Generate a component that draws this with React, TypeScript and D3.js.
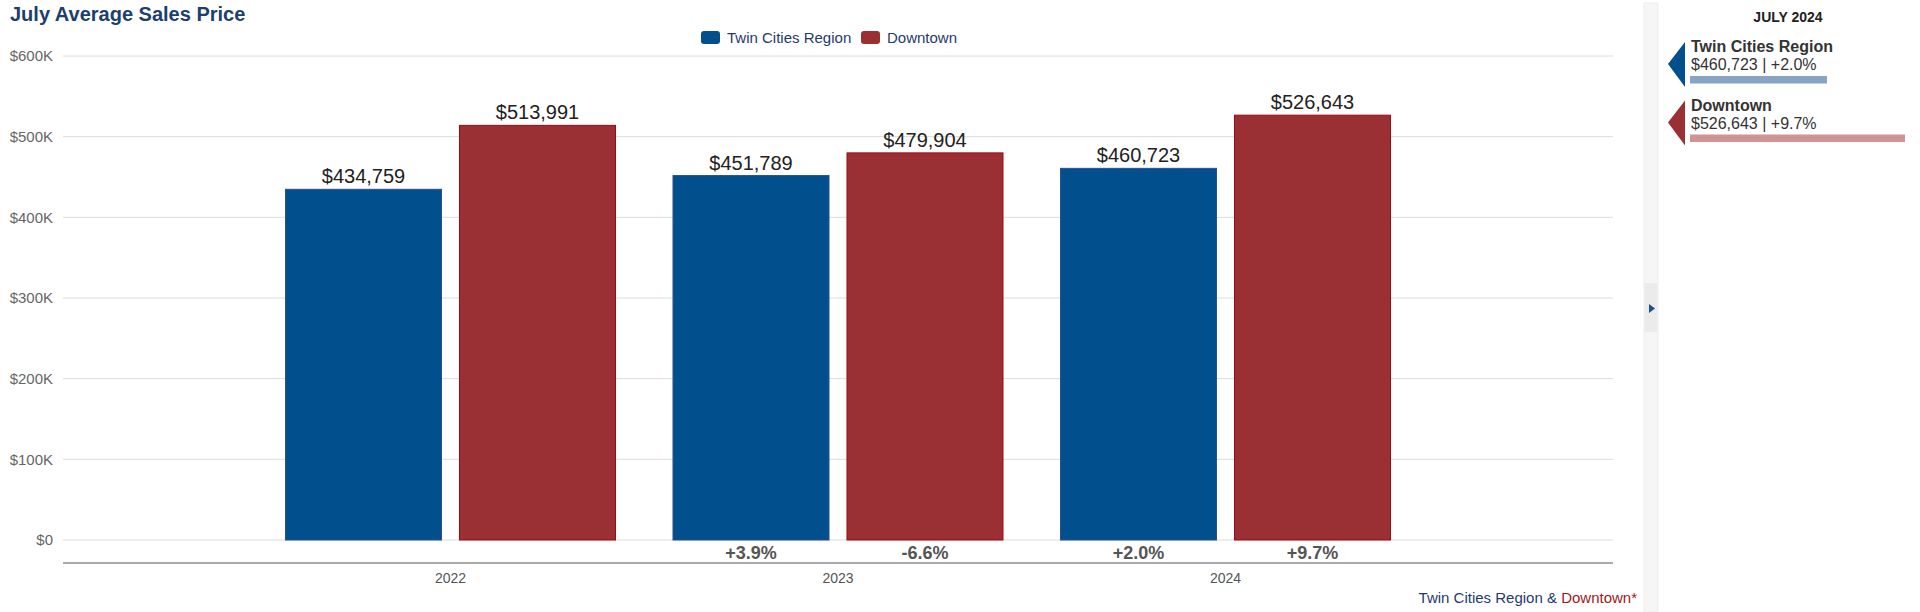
import React from 'react';
import * as d3 from 'd3';

const years = [2022, 2023, 2024];
const seriesNames = ['Twin Cities Region', 'Downtown'];
const twinCities = [434759, 451789, 460723];
const downtown = [513991, 479904, 526643];
const twinChange = ['', '+3.9%', '+2.0%'];
const downtownChange = ['', '-6.6%', '+9.7%'];
const yTicks = [0, 100000, 200000, 300000, 400000, 500000, 600000];
const panelTitle = 'JULY 2024';
const panelValues = [460723, 526643];
const panelChanges = ['+2.0%', '+9.7%'];

const W = 1920;
const H = 612;
const FONT = '"Liberation Sans", Arial, Helvetica, sans-serif';

const colors = ['#024f8e', '#9a3033'];
const strokes = ['#2c4f8f', '#a3080c'];
const lightColors = ['#88a4c4', '#d09494'];

const App: React.FC = () => {
  const x = d3.scaleLinear().domain([2021, 2025]).range([63, 1613]);
  const y = d3.scaleLinear().domain([0, 600000]).range([540, 56]);
  const halfGroup = 165;
  const inner = d3.scaleBand<string>()
    .domain(seriesNames)
    .range([-halfGroup, halfGroup])
    .paddingInner(0.1034);
  const series = [twinCities, downtown];
  const changes = [twinChange, downtownChange];
  const panelBar = d3.scaleLinear().domain([345000, 526643]).range([0, 215]);
  const fmt = d3.format('$,');

  return (
    <svg
      width={W}
      height={H}
      style={{ position: 'absolute', left: 0, top: 0, background: '#fff' }}
      fontFamily={FONT}
    >
      {/* title */}
      <text x={10} y={21} fontSize={20} fontWeight="bold" fill="#1c3f6e">
        July Average Sales Price
      </text>

      {/* legend */}
      {seriesNames.map((name, i) => {
        const lx = i === 0 ? 701 : 861;
        return (
          <g key={name}>
            <rect x={lx} y={31} width={19} height={13} rx={3} fill={colors[i]} />
            <text x={lx + 26} y={43} fontSize={15} fill="#1f3b70">
              {name}
            </text>
          </g>
        );
      })}

      {/* grid + y labels */}
      {yTicks.map((t) => (
        <g key={t}>
          <line x1={63} x2={1613} y1={y(t)} y2={y(t)} stroke="#dcdcdc" strokeWidth={1} />
          <text x={53} y={y(t)} dy="0.35em" textAnchor="end" fontSize={15} fill="#666">
            {t === 0 ? '$0' : `$${t / 1000}K`}
          </text>
        </g>
      ))}

      {/* bars */}
      {years.map((yr, yi) => (
        <g key={yr} transform={`translate(${x(yr)},0)`}>
          {seriesNames.map((name, si) => {
            const v = series[si][yi];
            const bx = inner(name) as number;
            const bw = inner.bandwidth();
            return (
              <g key={name}>
                <rect
                  x={bx}
                  y={y(v)}
                  width={bw}
                  height={y(0) - y(v)}
                  fill={colors[si]}
                  stroke={strokes[si]}
                  strokeWidth={1}
                />
                <text
                  x={bx + bw / 2}
                  y={y(v) - 6}
                  textAnchor="middle"
                  fontSize={20}
                  fill="#222"
                >
                  {fmt(v)}
                </text>
                {changes[si][yi] && (
                  <text
                    x={bx + bw / 2}
                    y={559}
                    textAnchor="middle"
                    fontSize={18}
                    fontWeight="bold"
                    fill="#555"
                  >
                    {changes[si][yi]}
                  </text>
                )}
              </g>
            );
          })}
          <text x={0} y={583} textAnchor="middle" fontSize={14} fill="#555">
            {yr}
          </text>
        </g>
      ))}

      {/* x axis line */}
      <line x1={63} x2={1613} y1={563} y2={563} stroke="#aaa" strokeWidth={2} />

      {/* footer */}
      <text x={1637} y={603} textAnchor="end" fontSize={15}>
        <tspan fill="#1f3b70">Twin Cities Region</tspan>
        <tspan fill="#1f3b70"> &amp; </tspan>
        <tspan fill="#9a1c1c">Downtown*</tspan>
      </text>

      {/* side strip */}
      <rect x={1644} y={3} width={14} height={609} fill="#f6f6f6" stroke="#eeeeee" />
      <rect x={1644.5} y={283} width={13} height={49} fill="#ebebeb" />
      <path d="M1649,304 L1655,308.5 L1649,313 Z" fill="#1f4f8e" />

      {/* side panel */}
      <text x={1788} y={22} textAnchor="middle" fontSize={14} fontWeight="bold" fill="#222">
        {panelTitle}
      </text>
      {seriesNames.map((name, i) => {
        const oy = i * 58.5;
        return (
          <g key={name} transform={`translate(0,${oy})`}>
            <path d="M1668,64 L1685,42 L1685,87 Z" fill={colors[i]} />
            <text x={1691} y={52} fontSize={16} fontWeight="bold" fill="#333">
              {name}
            </text>
            <text x={1691} y={70} fontSize={16} fill="#333">
              {`${fmt(panelValues[i])} | ${panelChanges[i]}`}
            </text>
            <rect x={1690} y={76} width={panelBar(panelValues[i])} height={7.5} fill={lightColors[i]} />
          </g>
        );
      })}
    </svg>
  );
};

export default App;
